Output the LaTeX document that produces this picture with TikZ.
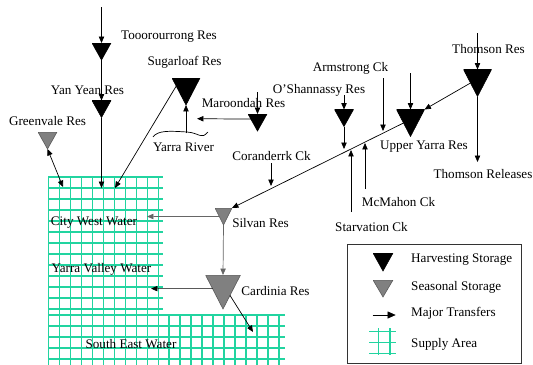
\documentclass[tikz,border=0pt]{standalone}
\usepackage{fontspec}
\setmainfont{Liberation Serif}
\newfontfamily\lblfont{Liberation Serif}
\usetikzlibrary{arrows.meta,positioning,calc}
\definecolor{ink}{HTML}{000000}
\definecolor{seasgray}{HTML}{808080}
\definecolor{linkgray}{HTML}{666666}
\definecolor{supply}{HTML}{22D4A0}
\tikzset{
  lbl/.style={font=\lblfont\fontsize{11.2}{13}\selectfont,inner sep=0pt},
  resv/.style={inner sep=0pt,outer sep=0pt,
               path picture={\filldraw[fill=#1,draw=#1!70!black,line width=0.5pt]
                 (path picture bounding box.north west) -- (path picture bounding box.north east)
                 -- (path picture bounding box.south) -- cycle;}},
  harvest/.style={resv=ink},
  seasonal/.style={resv=seasgray},
  smalltri/.style={minimum width=0.57cm,minimum height=0.51cm},
  bigtri/.style={minimum width=0.84cm,minimum height=0.81cm},
  flow/.style={-{Triangle[length=5.5pt,width=4.6pt]},line width=0.6pt,color=ink},
  grayflow/.style={flow,color=linkgray},
  gridline/.style={line width=1pt,color=supply}
}

\begin{document}
\begin{tikzpicture}[x=0.03cm,y=-0.03cm]
  \useasboundingbox (0,0) rectangle (533,365);
  % supply area grid
  \foreach \k in {0,...,12} \draw[gridline] (48,{177+11*\k}) -- (163,{177+11*\k});
  \foreach \k in {0,...,4} \draw[gridline] (48,{315+11*\k}) -- (285,{315+11*\k});
  \foreach \k in {0,...,10} \draw[gridline] ({48.5+11*\k},177) -- ({48.5+11*\k},365);
  \foreach \k in {0,...,10} \draw[gridline] ({169+11*\k},315) -- ({169+11*\k},365);

  % storages
  \node[harvest,smalltri] (toor) at (101.5,51.5) {};
  \node[harvest,smalltri] (yan) at (101.5,109) {};
  \node[harvest,bigtri] (sug) at (186,91.5) {};
  \node[harvest,smalltri] (mar) at (257.5,122.5) {};
  \node[harvest,smalltri] (osh) at (344,118) {};
  \node[harvest,bigtri] (thom) at (477.5,83) {};
  \node[harvest,bigtri] (uy) at (410.5,123) {};
  \node[seasonal,smalltri] (gv) at (47.5,140.5) {};
  \node[seasonal,minimum width=0.51cm,minimum height=0.51cm] (silv) at (223.5,216.5) {};
  \node[seasonal,minimum width=1.05cm,minimum height=1.02cm] (card) at (223,292) {};

  \node[lbl] (toorl) at (169,37) {Tooorourrong Res};
  \node[lbl] (yanl) at (87.5,90) {Yan Yean Res};
  \node[lbl] (sugl) at (184.5,62) {Sugarloaf Res};
  \node[lbl] (marl) at (243.5,103) {Maroondah Res};
  \node[lbl] (yrl) at (183.5,147) {Yarra River};
  \node[lbl] (gvl) at (47.5,121) {Greenvale Res};
  \node[lbl] (corl) at (271.5,156) {Coranderrk Ck};
  \node[lbl] (oshl) at (319,90) {O’Shannassy Res};
  \node[lbl] (arml) at (350.5,68) {Armstrong Ck};
  \node[lbl] (thoml) at (488.5,49) {Thomson Res};
  \node[lbl] (uyl) at (424,147) {Upper Yarra Res};
  \node[lbl] (threll) at (483,174) {Thomson Releases};
  \node[lbl] (mcml) at (398.5,202) {McMahon Ck};
  \node[lbl] (starvl) at (371.5,227) {Starvation Ck};
  \node[lbl] (silvl) at (260.5,223) {Silvan Res};
  \node[lbl] (cardl) at (275.5,291) {Cardinia Res};
  \node[lbl] (cww) at (94,223) {City West Water};
  \node[lbl] (yvw) at (101.5,269) {Yarra Valley Water};
  \node[lbl] (sew) at (131,344) {South East Water};

  % free ends
  \coordinate (toorin) at (101.5,7);
  \coordinate (yanout) at (101.5,188);
  \coordinate (sugout) at (115,188);
  \coordinate (gvend) at (63,187);
  \coordinate (yrv) at (186,133);
  \coordinate (marin) at (257.5,92);
  \coordinate (marout) at (197,118.7);
  \coordinate (thomin) at (477.5,33);
  \coordinate (threl) at (477.5,162);
  \coordinate (uyin) at (410.5,73);
  \coordinate (armin) at (383,78);
  \coordinate (armend) at (383,131);
  \coordinate (oshin) at (344,95);
  \coordinate (oshend) at (344,149);
  \coordinate (starvin) at (351,212);
  \coordinate (starvend) at (351,150);
  \coordinate (mcmin) at (365,189);
  \coordinate (mcmend) at (365,143);
  \coordinate (corin) at (271,163);
  \coordinate (corend) at (271,186);
  \coordinate (silvout) at (147,216.5);
  \coordinate (cardout) at (151,288.6);
  \coordinate (sewend) at (253,332);

  % Yarra River
  \draw[line width=0.6pt] (153,137) .. controls (158,130) and (170,131) .. (187,132)
    .. controls (200,133) and (201,140) .. (208,132);

  % transfers
  \draw[flow] (toorin) -- (toor.north);
  \draw[flow] (toor.south) -- (yan.north);
  \draw[flow] (yan.south) -- (yanout);
  \draw[flow] ($(sug.north west)!0.3!(sug.south)$) -- (sugout);
  \draw[flow] (yrv) -- (sug.south);
  \draw[flow] (marin) -- (mar.north);
  \draw[flow] ($(mar.north west)!0.3!(mar.south)$) -- (marout);
  \draw[flow,{Triangle[length=5.5pt,width=4.6pt]}-{Triangle[length=5.5pt,width=4.6pt]}] (gv.south) -- (gvend);
  \draw[flow] (thomin) -- (thom.north);
  \draw[flow] (thom.south) -- (threl);
  \draw[flow] ($(thom.north west)!0.5!(thom.south)$) -- (uy.north east);
  \draw[flow] (uyin) -- (uy.north);
  \draw[flow] ($(uy.north west)!0.5!(uy.south)$) -- (silv.north east);
  \draw[flow] (armin) -- (armend);
  \draw[flow] (oshin) -- (osh.north);
  \draw[flow] (osh.south) -- (oshend);
  \draw[flow] (starvin) -- (starvend);
  \draw[flow] (mcmin) -- (mcmend);
  \draw[flow] (corin) -- (corend);
  \draw[grayflow] ($(silv.north west)!0.5!(silv.south)$) -- (silvout);
  \draw[grayflow] (silv.south) -- (card.north);
  \draw[flow] ($(card.north west)!0.4!(card.south)$) -- (cardout);
  \draw[flow] ($(card.north east)!0.6!(card.south)$) -- (sewend);

  % legend
  \draw[line width=0.6pt,color=ink!80] (347,244) rectangle (521,363);
  \node[harvest,minimum width=0.6cm,minimum height=0.54cm] (keyharv) at (383,262) {};
  \node[seasonal,minimum width=0.6cm,minimum height=0.51cm] (keyseas) at (383,288.5) {};
  \coordinate (keyfrom) at (372.7,315);
  \coordinate (keyto) at (395.7,315);
  \draw[flow,-{Triangle[length=7pt,width=6pt]}] (keyfrom) -- (keyto);
  \foreach \x in {378.3,390} \draw[gridline] (\x,328) -- (\x,355);
  \foreach \y in {331.7,342.3,353.3} \draw[gridline] (369,\y) -- (395.7,\y);
  \node[lbl,anchor=west] (keyharvl) at (411,260) {Harvesting Storage};
  \node[lbl,anchor=west] (keyseasl) at (411,287) {Seasonal Storage};
  \node[lbl,anchor=west] (keyflowl) at (411,313) {Major Transfers};
  \node[lbl,anchor=west] (keysupl) at (411,344) {Supply Area};
\end{tikzpicture}
\end{document}
